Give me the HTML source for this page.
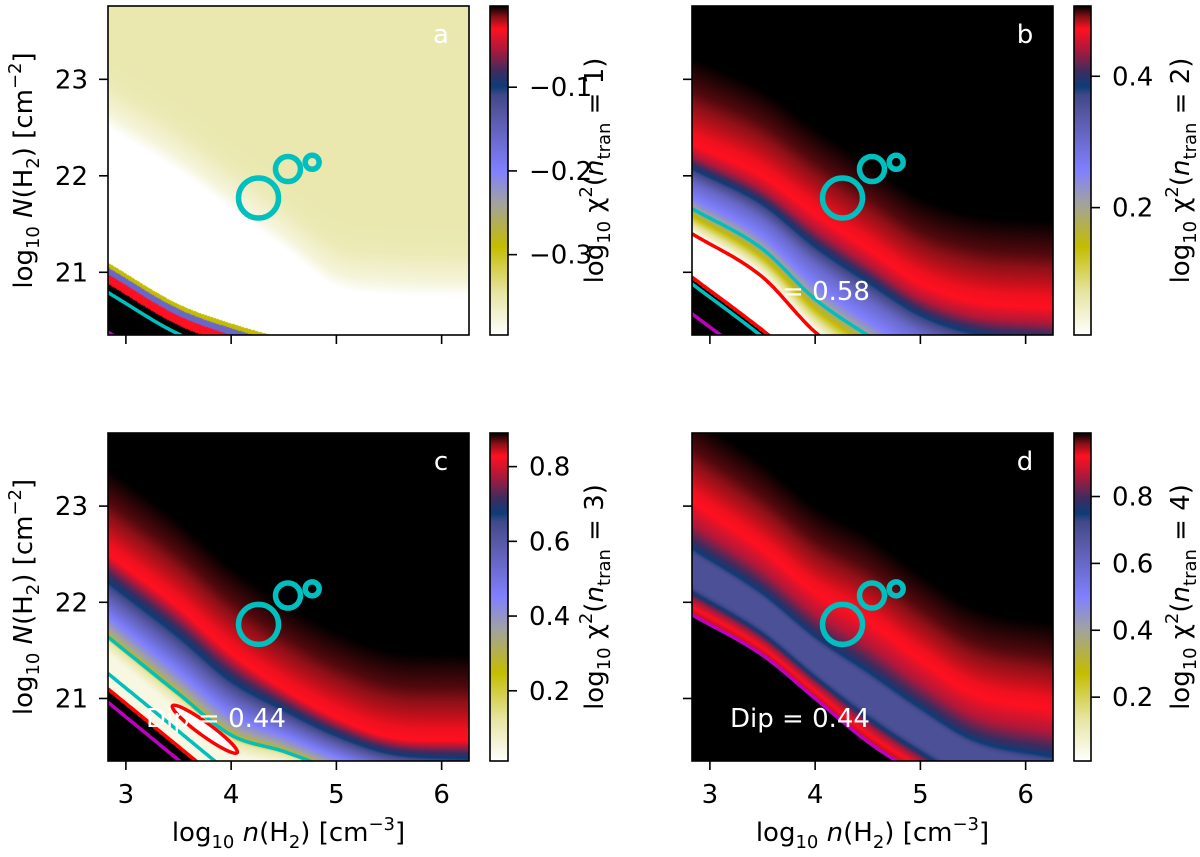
<!DOCTYPE html>
<html><head><meta charset="utf-8"><style>
html,body{margin:0;padding:0;background:#fff;width:1200px;height:857px;overflow:hidden;}
#wrap{position:relative;width:1200px;height:857px;overflow:hidden;}
#cv,#ov{position:absolute;left:0;top:0;display:block;}
text{font-family:"DejaVu Sans","Liberation Sans",sans-serif;}
</style></head><body>
<div id="wrap">
<canvas id="cv" width="1200" height="857"></canvas>
<svg id="ov" width="1200" height="857" xmlns="http://www.w3.org/2000/svg" style="overflow:hidden"></svg>
</div>
<script>
// ---- data ----
const xKnots=[2.83,3.5,4.0,4.5,5.0,5.5,6.26];
const ridgeA=[22.65,22.2,21.8,21.4,21.0,20.92,20.9];
const cornerA=[20.88,20.45,20.25,20.1,20.0,19.9,19.8];
const ridgeB=[22.33,21.99,21.6,21.24,20.88,20.7,20.63];
const lowerB=[21.4,20.95,20.38,20.0,19.7,19.5,19.4];
const cornerB=[20.95,20.4,19.95,19.55,19.15,18.75,18.15];
const ridgeC=[22.5,21.95,21.47,21.1,20.8,20.6,20.56];
const lowerC=[21.64,21.05,20.62,20.45,20.25,20.1,20.0];
const cornerC=[21.1,20.5,20.05,19.6,19.15,18.7,18.0];
const ridgeD=[23.05,22.55,22.1,21.8,21.4,21.05,20.88];
const lowerD=[21.87,21.45,21.0,20.55,20.2,19.9,19.7];
const aboveD=[0,0.12,0.3,0.55,0.9];
const aboveF=[0.93,0.935,0.955,0.98,1];
const aAboveD=[0,0.3,0.6];
const aAboveF=[0.05,0.1,0.11];
const aBelowD=[0,0.15];
const aBelowF=[0.05,0];
const bT=[0,0.13,0.27,0.43,0.6,0.75,0.88,1];
const bF=[0.93,0.87,0.76,0.6,0.5,0.35,0.15,0];
const cT=[0,0.2,0.35,0.55,0.75,0.9,1,1.05,1.2,3];
const cF=[0.93,0.82,0.75,0.62,0.5,0.4,0.28,0.12,0.04,0.04];
const dT=[0,0.2,0.38,0.42,0.47,0.74,0.79,0.85,0.93,0.99,1.0,1.01];
const dF=[0.93,0.87,0.78,0.75,0.7,0.7,0.75,0.85,0.93,0.95,1,1];
const circleX=[4.26,4.54,4.77];
const circleY=[21.77,22.07,22.14];
const xTicks=[3,4,5,6];
const yTicks=[21,22,23];
const cbTicksA=[-0.1,-0.2,-0.3];
const cbTicksB=[0.2,0.4];
const cbTicksC=[0.2,0.4,0.6,0.8];
const cbTicksD=[0.2,0.4,0.6,0.8];
const cbRangeA=[-0.396,-0.003];
const cbRangeB=[0.006,0.507];
const cbRangeC=[0.012,0.89];
const cbRangeD=[0.009,0.99];
const dipLabels=["Dip = 0.58","Dip = 0.44","Dip = 0.44"];
// ---- colormap ----
const cmF=[0,0.13,0.27,0.40,0.50,0.66,0.73,0.755,0.80,0.87,0.93,0.965,1];
const cmC=["#ffffff","#e6e4a0","#c4bc00","#a2a2a0","#8080ff","#5a5aaa","#404888","#0c3c78","#3c2c60","#b0183a","#ff1020","#901018","#000000"];
function hex(h){return [parseInt(h.substr(1,2),16),parseInt(h.substr(3,2),16),parseInt(h.substr(5,2),16)];}
const cmRGB=cmC.map(hex);
function cmap(f){f=Math.max(0,Math.min(1,f));for(let i=1;i<cmF.length;i++){if(f<=cmF[i]){const t=(f-cmF[i-1])/(cmF[i]-cmF[i-1]);const a=cmRGB[i-1],b=cmRGB[i];return [a[0]+(b[0]-a[0])*t,a[1]+(b[1]-a[1])*t,a[2]+(b[2]-a[2])*t];}}return cmRGB[cmRGB.length-1];}
function interp(X,Y,x){if(x<=X[0])return Y[0];for(let i=1;i<X.length;i++){if(x<=X[i]){return Y[i-1]+(Y[i]-Y[i-1])*(x-X[i-1])/(X[i]-X[i-1]);}}return Y[Y.length-1];}
function smooth(X,Y,x){
 const n=X.length;if(x<=X[0])return Y[0];if(x>=X[n-1])return Y[n-1];
 const d=[],m=[];for(let i=0;i<n-1;i++)d.push((Y[i+1]-Y[i])/(X[i+1]-X[i]));
 m[0]=d[0];m[n-1]=d[n-2];for(let i=1;i<n-1;i++)m[i]=(d[i-1]*d[i]<=0)?0:(d[i-1]+d[i])/2;
 let i=0;while(x>X[i+1])i++;
 const h=X[i+1]-X[i],t=(x-X[i])/h;
 const h00=2*t*t*t-3*t*t+1,h10=t*t*t-2*t*t+t,h01=-2*t*t*t+3*t*t,h11=t*t*t-t*t;
 return h00*Y[i]+h10*h*m[i]+h01*Y[i+1]+h11*h*m[i+1];
}
// ---- layout ----
const XD=[2.83,6.26],YD=[20.35,23.76];
const panels=[
 {id:"a",x0:108,x1:469,y0:6,y1:335,cb:[490,508],R:ridgeA,C:cornerA,mode:"a",cbR:cbRangeA,cbT:cbTicksA,n:1,xl:false,yl:true},
 {id:"b",x0:692,x1:1053,y0:6,y1:335,cb:[1074,1091],R:ridgeB,L:lowerB,C:cornerB,T:bT,F:bF,cbR:cbRangeB,cbT:cbTicksB,n:2,xl:false,yl:false,dip:dipLabels[0]},
 {id:"c",x0:108,x1:469,y0:433,y1:761,cb:[490,508],R:ridgeC,L:lowerC,C:cornerC,T:cT,F:cF,cbR:cbRangeC,cbT:cbTicksC,n:3,xl:true,yl:true,dip:dipLabels[1]},
 {id:"d",x0:692,x1:1053,y0:433,y1:761,cb:[1074,1091],R:ridgeD,L:lowerD,T:dT,F:dF,cbR:cbRangeD,cbT:cbTicksD,n:4,xl:true,yl:false,dip:dipLabels[2]}
];
function sx(p,x){return p.x0+(x-XD[0])/(XD[1]-XD[0])*(p.x1-p.x0);}
function sy(p,y){return p.y1-(y-YD[0])/(YD[1]-YD[0])*(p.y1-p.y0);}
function field(p,x,N){
 const R=smooth(xKnots,p.R,x);
 if(p.mode==="a"){
  const e=N-smooth(xKnots,p.C,x);
  if(e<0)return 1; if(e<0.1)return 0.93; if(e<0.17)return 0.6; if(e<0.22)return 0.27;
  const d=N-R; return d>=0?interp(aAboveD,aAboveF,d):interp(aBelowD,aBelowF,-d);
 }
 if(p.C){const e=N-smooth(xKnots,p.C,x); if(e<-0.02)return 1;}
 if(N>=R)return interp(aboveD,aboveF,N-R);
 const L=smooth(xKnots,p.L,x);
 const t=(R-N)/Math.max(0.01,R-L);
 return interp(p.T,p.F,t);
}
const cv=document.getElementById('cv');const ctx=cv.getContext('2d');
panels.forEach(p=>{
 const w=p.x1-p.x0,h=p.y1-p.y0;const img=ctx.createImageData(w,h);
 for(let j=0;j<h;j++){const N=YD[1]-(j+0.5)/h*(YD[1]-YD[0]);
  for(let i=0;i<w;i++){const x=XD[0]+(i+0.5)/w*(XD[1]-XD[0]);const c=cmap(field(p,x,N));const k=(j*w+i)*4;img.data[k]=c[0];img.data[k+1]=c[1];img.data[k+2]=c[2];img.data[k+3]=255;}}
 ctx.putImageData(img,p.x0,p.y0);
});
// ---- svg overlay ----
const NS="http://www.w3.org/2000/svg";const svg=document.getElementById('ov');
function el(tag,attrs,parent){const e=document.createElementNS(NS,tag);for(const k in attrs)e.setAttribute(k,attrs[k]);(parent||svg).appendChild(e);return e;}
const defs=el('defs',{});
const grad=el('linearGradient',{id:'cmapgrad',x1:0,y1:1,x2:0,y2:0},defs);
cmF.forEach((f,i)=>el('stop',{offset:f,'stop-color':cmC[i]},grad));
function curve(p,fn){let s="";for(let x=XD[0];x<=XD[1]+1e-9;x+=0.02){s+=(s?"L":"M")+sx(p,x).toFixed(1)+","+sy(p,fn(x)).toFixed(1);}return s;}
const SUB='font-size="18" dy="7"',UNSUB='dy="-7"';
panels.forEach(p=>{
 const g=el('g',{});
 
 
 const cp=el('clipPath',{id:'clip'+p.id},defs);el('rect',{x:p.x0,y:p.y0,width:p.x1-p.x0,height:p.y1-p.y0},cp);
 const cg=el('g',{'clip-path':'url(#clip'+p.id+')'},g);
 const lines=[];
 const Cf=x=>smooth(xKnots,p.C,x);
 if(p.mode==="a"){lines.push({fn:x=>Cf(x)-0.09,c:"#00bfbf"});lines.push({fn:x=>Cf(x)-0.5,c:"#bf00bf"});}
 if(p.id==="b"){lines.push({fn:x=>{const r=smooth(xKnots,p.R,x);return r-0.72*(r-smooth(xKnots,p.L,x));},c:"#00bfbf"});lines.push({fn:x=>smooth(xKnots,p.L,x),c:"#ff0000"});lines.push({fn:x=>Cf(x),c:"#ff0000"});lines.push({fn:x=>Cf(x)-0.07,c:"#00bfbf"});lines.push({fn:x=>Cf(x)-0.38,c:"#bf00bf"});}
 if(p.id==="c"){lines.push({fn:x=>smooth(xKnots,p.L,x),c:"#00bfbf"});lines.push({fn:x=>Cf(x)+0.16,c:"#00bfbf"});lines.push({fn:x=>Cf(x),c:"#ff0000"});lines.push({fn:x=>Cf(x)-0.14,c:"#bf00bf"});}
 if(p.id==="d"){lines.push({fn:x=>smooth(xKnots,p.L,x),c:"#bf00bf"});}
 lines.forEach((ln,i)=>{const e=el('path',{d:curve(p,ln.fn),fill:'none',stroke:ln.c,'stroke-width':3.5},cg);
  
  });
 if(p.id==="c"){const ex=sx(p,3.75),ey=sy(p,20.68);const e=el('ellipse',{cx:ex,cy:ey,rx:40,ry:6.5,fill:'#fff',stroke:'#ff0000','stroke-width':3.5,transform:'rotate(36 '+ex+' '+ey+')'},cg);
  
  }
 const radii=[20,12.5,7];
 circleX.forEach((cx,i)=>{const e=el('circle',{cx:sx(p,cx),cy:sy(p,circleY[i]),r:radii[i],fill:'none',stroke:'#00bfbf','stroke-width':5.5},g);
  
  });
 if(p.dip){const t=el('text',{x:p.x0+38,y:p.y0+294,'font-size':26,fill:'#fff'},g);t.textContent=p.dip;
  
  }
 const lt=el('text',{x:p.x1-28,y:p.y0+37,'font-size':26,fill:'#fff','text-anchor':'middle'},g);lt.textContent=p.id;
 
 
 el('rect',{x:p.x0,y:p.y0,width:p.x1-p.x0,height:p.y1-p.y0,fill:'none',stroke:'#000','stroke-width':1.6},g);
 xTicks.forEach(v=>{const X=sx(p,v);el('line',{x1:X,x2:X,y1:p.y1,y2:p.y1+9,stroke:'#000','stroke-width':1.6},g);
  if(p.xl){const t=el('text',{x:X,y:p.y1+42,'font-size':26,'text-anchor':'middle'},g);t.textContent=v;
   
   }});
 yTicks.forEach(v=>{const Y=sy(p,v);el('line',{x1:p.x0-9,x2:p.x0,y1:Y,y2:Y,stroke:'#000','stroke-width':1.6},g);
  if(p.yl){const t=el('text',{x:p.x0-20,y:Y+9,'font-size':26,'text-anchor':'end'},g);t.textContent=v;
   
   }});
 if(p.xl){const t=el('text',{x:(p.x0+p.x1)/2,y:p.y1+80,'font-size':26,'text-anchor':'middle'},g);
  t.innerHTML='log<tspan '+SUB+'>10</tspan><tspan '+UNSUB+'> </tspan><tspan font-style="italic">n</tspan>(H<tspan '+SUB+'>2</tspan><tspan '+UNSUB+'>) [cm</tspan><tspan font-size="18" dy="-11">−3</tspan><tspan dy="11">]</tspan>';
  
  }
 if(p.yl){const cy=(p.y0+p.y1)/2;const t=el('text',{x:0,y:0,'font-size':26,'text-anchor':'middle',transform:'translate(32 '+cy+') rotate(-90)'},g);
  t.innerHTML='log<tspan '+SUB+'>10</tspan><tspan '+UNSUB+'> </tspan><tspan font-style="italic">N</tspan>(H<tspan '+SUB+'>2</tspan><tspan '+UNSUB+'>) [cm</tspan><tspan font-size="18" dy="-11">−2</tspan><tspan dy="11">]</tspan>';
  
  }
 const cb=el('g',{},g);
 
 
 el('rect',{x:p.cb[0],y:p.y0,width:p.cb[1]-p.cb[0],height:p.y1-p.y0,fill:'url(#cmapgrad)',stroke:'#000','stroke-width':1.6},cb);
 p.cbT.forEach(v=>{const Y=p.y1-(v-p.cbR[0])/(p.cbR[1]-p.cbR[0])*(p.y1-p.y0);
  el('line',{x1:p.cb[1],x2:p.cb[1]+9,y1:Y,y2:Y,stroke:'#000','stroke-width':1.6},cb);
  const t=el('text',{x:p.cb[1]+21,y:Y+9,'font-size':26},cb);t.textContent=(v<0?'−':'')+Math.abs(v).toFixed(1);
  
  });
 const lx=p.x0<600?594:1180;const cy=(p.y0+p.y1)/2;
 const ct=el('text',{x:0,y:0,'font-size':26,'text-anchor':'middle',transform:'translate('+(lx+9)+' '+cy+') rotate(-90)'},cb);
 ct.innerHTML='log<tspan '+SUB+'>10</tspan><tspan '+UNSUB+'> χ</tspan><tspan font-size="18" dy="-11">2</tspan><tspan dy="11">(</tspan><tspan font-style="italic">n</tspan><tspan '+SUB+'>tran</tspan><tspan '+UNSUB+'> = '+p.n+')</tspan>';
 
 
});
</script>
</body></html>
